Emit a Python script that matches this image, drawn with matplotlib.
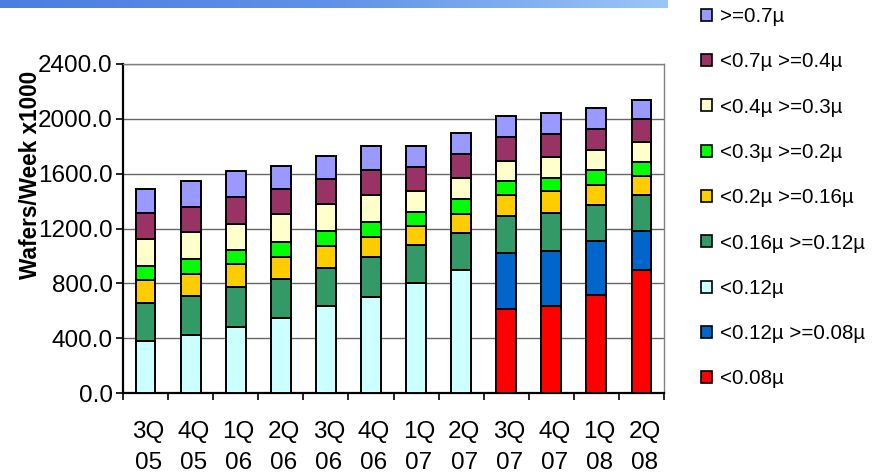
import matplotlib.pyplot as plt
import numpy as np
from matplotlib.patches import Patch
from matplotlib.colors import LinearSegmentedColormap
from matplotlib.transforms import ScaledTranslation

# quarterly capacity, wafers/week x1000, split by geometry
quarters = ['3Q\n05', '4Q\n05', '1Q\n06', '2Q\n06', '3Q\n06', '4Q\n06',
            '1Q\n07', '2Q\n07', '3Q\n07', '4Q\n07', '1Q\n08', '2Q\n08']

lt_008 = [0, 0, 0, 0, 0, 0, 0, 0, 615, 635, 715, 900]
lt_012_ge_008 = [0, 0, 0, 0, 0, 0, 0, 0, 405, 400, 395, 280]
lt_012 = [380, 420, 480, 550, 635, 700, 800, 900, 0, 0, 0, 0]
lt_016 = [280, 290, 295, 280, 280, 295, 280, 265, 270, 280, 265, 265]
lt_02 = [165, 155, 165, 165, 155, 140, 140, 140, 155, 155, 140, 140]
lt_03 = [100, 110, 100, 110, 115, 110, 100, 110, 100, 95, 110, 100]
lt_04 = [200, 200, 195, 200, 195, 200, 155, 155, 150, 155, 145, 145]
lt_07 = [185, 185, 195, 180, 180, 180, 170, 175, 170, 170, 155, 170]
ge_07 = [180, 185, 190, 170, 170, 175, 155, 155, 155, 155, 155, 135]

series = [
    (lt_008, '<0.08\u00b5', '#FF0000'),
    (lt_012_ge_008, '<0.12\u00b5 >=0.08\u00b5', '#0066CC'),
    (lt_012, '<0.12\u00b5', '#CCFFFF'),
    (lt_016, '<0.16\u00b5 >=0.12\u00b5', '#339966'),
    (lt_02, '<0.2\u00b5 >=0.16\u00b5', '#FFCC00'),
    (lt_03, '<0.3\u00b5 >=0.2\u00b5', '#00FF00'),
    (lt_04, '<0.4\u00b5 >=0.3\u00b5', '#FFFFCC'),
    (lt_07, '<0.7\u00b5 >=0.4\u00b5', '#993366'),
    (ge_07, '>=0.7\u00b5', '#9999FF'),
]

plt.rcParams['font.family'] = ['Liberation Sans', 'DejaVu Sans']

fig = plt.figure(figsize=(8.74, 4.76), dpi=100)
fig.patch.set_facecolor('white')

# blue header strip along the top edge
band = fig.add_axes([0, 1 - 8 / 476, 668 / 874, 8 / 476])
grad = np.linspace(0, 1, 256).reshape(1, -1)
band_cmap = LinearSegmentedColormap.from_list('band', ['#4a7ee0', '#5f92e8', '#9cc6f7'])
band.imshow(grad, aspect='auto', cmap=band_cmap)
band.axis('off')

ax = fig.add_axes([123 / 874, 83 / 476, 541 / 874, 329 / 476])

x = np.arange(len(quarters))
bottom = np.zeros(len(quarters))
handles = []
for vals, label, color in series:
    vals = np.array(vals, dtype=float)
    ax.bar(x, vals, width=0.44, bottom=bottom, color=color,
           edgecolor='black', linewidth=1.4, zorder=3)
    bottom += vals
    handles.append(Patch(facecolor=color, edgecolor='black', linewidth=1.2, label=label))

ax.set_xlim(-0.5, len(quarters) - 0.5)
ax.set_ylim(0, 2400)
ax.set_yticks(np.arange(0, 2401, 400))
ax.set_yticklabels(['%.1f' % v for v in np.arange(0, 2401, 400)])
ax.yaxis.grid(True, color='#666666', linewidth=1.0, zorder=0)
ax.set_axisbelow(True)

ax.set_xticks(x)
ax.set_xticklabels(quarters, linespacing=1.55)
ax.set_xticks(np.arange(-0.5, len(quarters), 1.0), minor=True)
ax.tick_params(axis='x', which='major', length=0, pad=20, labelsize=17.5)
ax.tick_params(axis='x', which='minor', length=5, width=1.2, direction='out')
ax.tick_params(axis='y', length=5, width=1.2, pad=2.5, labelsize=17.5)

# quarter labels sit a little right of the bar centres
shift = ScaledTranslation(3 / 100, 0, fig.dpi_scale_trans)
for lbl in ax.get_xticklabels():
    lbl.set_transform(lbl.get_transform() + shift)

for side in ('left', 'bottom'):
    ax.spines[side].set_linewidth(1.6)
    ax.spines[side].set_color('black')
for side in ('top', 'right'):
    ax.spines[side].set_linewidth(1.0)
    ax.spines[side].set_color('#808080')

ax.set_ylabel('Wafers/Week x1000', fontsize=16.3, fontweight='bold')
ax.yaxis.set_label_coords(-0.15, 0.663)

fig.legend(handles=handles[::-1], loc='upper left',
           bbox_to_anchor=(701 / 874, 1 - 7 / 476), frameon=False,
           fontsize=14.8, handlelength=0.52, handleheight=0.52,
           handletextpad=0.42, labelspacing=1.28, borderpad=0, borderaxespad=0)

fig.savefig('out.png', dpi=100)
